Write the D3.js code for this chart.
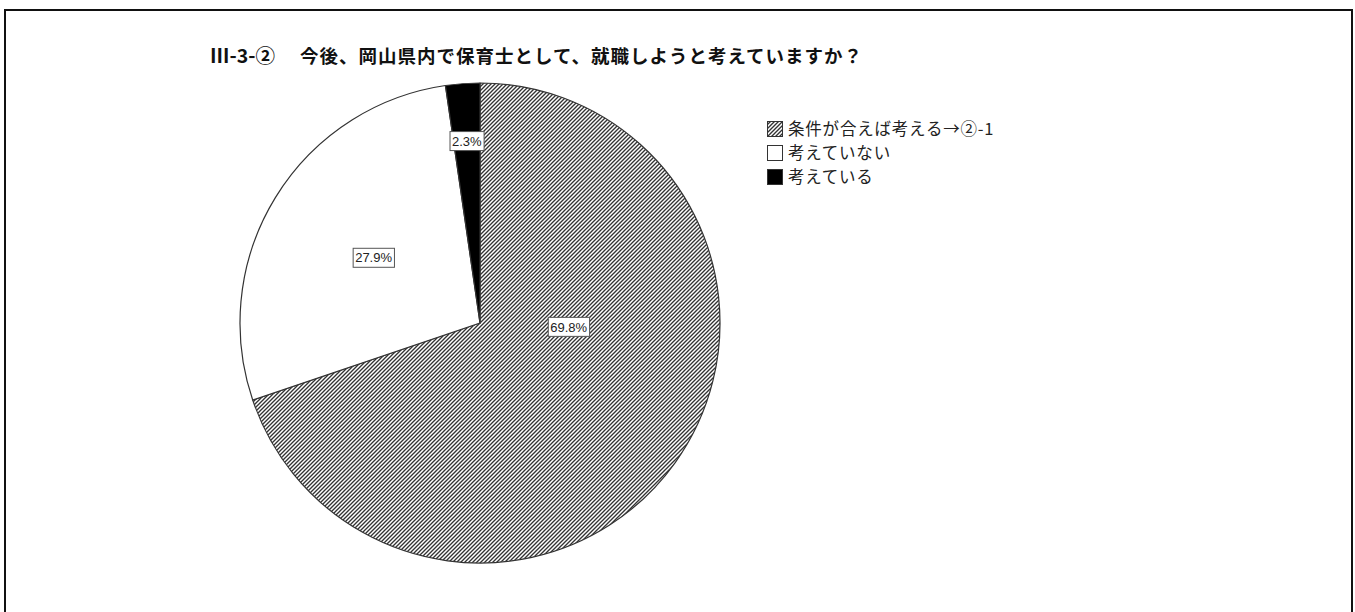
<!DOCTYPE html>
<html>
<head>
<meta charset="utf-8">
<script src="https://cdn.jsdelivr.net/npm/d3@7/dist/d3.min.js"></script>
<style>
  html, body { margin: 0; padding: 0; background: #fff; }
  svg { display: block; }
</style>
</head>
<body>
<svg id="chart" width="1355" height="612"></svg>
<script>
// ---- data ----
const titleNumber = "Ⅲ-3-②";
const titleText = "今後、岡山県内で保育士として、就職しようと考えていますか？";
const categories = ["条件が合えば考える→②-1", "考えていない", "考えている"];
const values = [69.8, 27.9, 2.3];
const valueLabels = ["69.8%", "27.9%", "2.3%"];

// ---- layout / style ----
const W = 1355, H = 612;
const cx = 480, cy = 323, R = 240;
const fills = ["url(#hatch)", "#ffffff", "#000000"];
// label placement: [angle in degrees clockwise from 12 o'clock (null = slice middle), radius fraction]
const labelPlace = [[92.5, 0.37], [null, 0.52], [null, 0.76]];

const svg = d3.select("#chart");

const defs = svg.append("defs");
const pat = defs.append("pattern")
  .attr("id", "hatch").attr("patternUnits", "userSpaceOnUse")
  .attr("width", 4).attr("height", 4);
pat.append("rect").attr("width", 4).attr("height", 4).attr("fill", "#fff");
pat.append("path")
  .attr("d", "M-1,1 l2,-2 M0,4 l4,-4 M3,5 l2,-2")
  .attr("stroke", "#333").attr("stroke-width", 1.35);

// outer frame
svg.append("rect")
  .attr("x", 5).attr("y", 10).attr("width", W - 8).attr("height", H + 20)
  .attr("fill", "none").attr("stroke", "#111").attr("stroke-width", 2);

// title
const title = svg.append("text")
  .attr("y", 63)
  .attr("font-family", "'Noto Sans CJK JP', sans-serif")
  .attr("font-weight", "bold").attr("font-size", 18.5)
  .attr("fill", "#111");
title.append("tspan").attr("x", 210)
  .attr("font-size", 19.5)
  .text(titleNumber);
title.append("tspan").attr("x", 300).attr("letter-spacing", 1)
  .text(titleText);

// pie
const pie = d3.pie().sort(null).value(d => d)
  .startAngle(0).endAngle(2 * Math.PI);
const arcs = pie(values);
const arc = d3.arc().innerRadius(0).outerRadius(R);

const g = svg.append("g").attr("transform", `translate(${cx},${cy})`);
g.selectAll("path.slice").data(arcs).enter().append("path")
  .attr("class", "slice")
  .attr("d", arc)
  .attr("fill", (d, i) => fills[i])
  .attr("stroke", "#333").attr("stroke-width", 1.2)
  .attr("stroke-linejoin", "round");

// value labels
const lg = g.selectAll("g.lbl").data(arcs).enter().append("g").attr("class", "lbl")
  .attr("transform", (d, i) => {
    const p = labelPlace[i];
    const a = p[0] === null ? (d.startAngle + d.endAngle) / 2 : p[0] * Math.PI / 180;
    const r = R * p[1];
    return `translate(${r * Math.sin(a)},${-r * Math.cos(a)})`;
  });
lg.each(function (d, i) {
  const s = d3.select(this);
  const t = s.append("text")
    .attr("text-anchor", "middle").attr("dy", "0.36em")
    .attr("font-family", "'Liberation Sans', Arial, sans-serif")
    .attr("font-size", 13).attr("fill", "#222")
    .text(valueLabels[i]);
  const bb = t.node().getBBox();
  s.insert("rect", "text")
    .attr("x", bb.x - 2).attr("y", -9.5)
    .attr("width", bb.width + 4).attr("height", 19)
    .attr("fill", "#fff").attr("stroke", "#555").attr("stroke-width", 1);
});

// legend
const legend = svg.append("g").attr("transform", "translate(767,121)");
const items = legend.selectAll("g").data(categories).enter().append("g")
  .attr("transform", (d, i) => `translate(0,${i * 24})`);
items.append("rect")
  .attr("x", 0.5).attr("y", 0.5).attr("width", 15).attr("height", 15)
  .attr("fill", (d, i) => fills[i])
  .attr("stroke", "#333").attr("stroke-width", 1);
items.append("text")
  .attr("x", 21).attr("y", 8).attr("dy", "0.36em")
  .attr("font-family", "'Noto Sans CJK JP', sans-serif")
  .attr("font-size", 16.5).attr("letter-spacing", 0.8).attr("fill", "#222")
  .text(d => d);
</script>
</body>
</html>
